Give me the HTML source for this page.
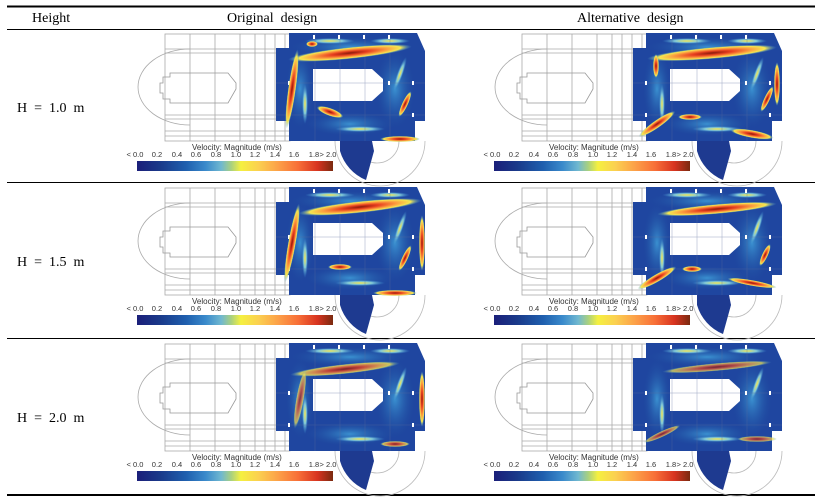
<!DOCTYPE html>
<html><head><meta charset="utf-8">
<style>
html,body{margin:0;padding:0;background:#fff;}
svg{display:block;}
.hd{font-family:"Liberation Serif",serif;font-size:14px;fill:#000;white-space:pre;}
.cb{font-family:"Liberation Sans",sans-serif;font-size:7.5px;fill:#333;text-anchor:middle;}
.cbt{font-family:"Liberation Sans",sans-serif;font-size:8px;fill:#333;}
</style></head><body>
<svg width="815" height="502" viewBox="0 0 815 502" xmlns="http://www.w3.org/2000/svg">
<defs>
<linearGradient id="cm" x1="0" x2="1" y1="0" y2="0">
<stop offset="0" stop-color="#1b1f7a"/><stop offset="0.12" stop-color="#1a3a8a"/>
<stop offset="0.25" stop-color="#1f5fae"/><stop offset="0.35" stop-color="#3a8acb"/>
<stop offset="0.43" stop-color="#70b8d0"/><stop offset="0.48" stop-color="#a8d080"/>
<stop offset="0.53" stop-color="#f5f040"/><stop offset="0.62" stop-color="#fbd050"/>
<stop offset="0.72" stop-color="#fca048"/><stop offset="0.82" stop-color="#f87038"/>
<stop offset="0.92" stop-color="#d83420"/><stop offset="1" stop-color="#7a2a10"/>
</linearGradient>
<radialGradient id="st" cx="0.5" cy="0.5" r="0.5">
<stop offset="0" stop-color="#8a1a0a"/><stop offset="0.3" stop-color="#e84020"/>
<stop offset="0.6" stop-color="#fca040"/><stop offset="0.82" stop-color="#f5e850"/>
<stop offset="1" stop-color="#4aa0d0" stop-opacity="0"/>
</radialGradient>
<radialGradient id="yl" cx="0.5" cy="0.5" r="0.5">
<stop offset="0" stop-color="#f8e850"/><stop offset="0.5" stop-color="#80c8d8"/>
<stop offset="1" stop-color="#3a8ad0" stop-opacity="0"/>
</radialGradient>
<radialGradient id="gl" cx="0.5" cy="0.5" r="0.5">
<stop offset="0" stop-color="#3a90d0"/><stop offset="1" stop-color="#1f4fa0" stop-opacity="0"/>
</radialGradient>
<g id="plan" fill="none" stroke="#aaa" stroke-width="0.8">
<path d="M190 20 A52 38 0 0 0 190 96"/>
<rect x="165" y="5" width="125" height="107"/>
<path d="M190 5V112M215 5V112M240 5V112M255 5V112M265 5V112M275 5V112M285 5V112"/>
<path d="M165 20H290M165 24H290M165 86H290M165 90H290M165 102H290M165 107H290"/>
<path d="M163 48H170V44H228L236 54V60L228 74H170V70H163V64H160V54H163Z" stroke="#999"/>
<path d="M355 112 A22 22 0 0 0 399 112" stroke="#bbb"/>
<path d="M335 112 A45 45 0 0 0 425 112" stroke="#bbb"/>
</g>
<g id="field">
<path d="M289 4H417L425 22V92H415V112H289V92H276V19H289Z" fill="#1f46a0"/>
<path d="M340 112H372L374 122L366 151A45 45 0 0 1 340 122Z" fill="#1e3a90"/>
<ellipse cx="300" cy="60" rx="14" ry="40" fill="url(#gl)"/>
<ellipse cx="395" cy="60" rx="20" ry="40" fill="url(#gl)"/>
<ellipse cx="350" cy="95" rx="45" ry="12" fill="url(#gl)"/>
<ellipse cx="350" cy="18" rx="60" ry="10" fill="url(#gl)"/>
<ellipse cx="330" cy="12" rx="25" ry="3" fill="url(#yl)"/>
<ellipse cx="390" cy="12" rx="20" ry="3" fill="url(#yl)"/>
<ellipse cx="305" cy="75" rx="3" ry="20" fill="url(#yl)"/>
<ellipse cx="400" cy="45" rx="3" ry="18" transform="rotate(20 400 45)" fill="url(#yl)"/>
<ellipse cx="360" cy="100" rx="25" ry="3" fill="url(#yl)"/>
<path d="M313 40H372L383 50V62L372 72H313Z" fill="#fff"/>
<g stroke="#5a6a9a" stroke-width="0.5" opacity="0.6">
<path d="M315 4V112M340 4V112M365 4V112M390 4V112M276 54H425M276 86H425"/>
</g>
<g fill="#fff"><rect x="313" y="6" width="2" height="4"/><rect x="338" y="6" width="2" height="4"/><rect x="363" y="6" width="2" height="4"/><rect x="388" y="6" width="2" height="4"/><rect x="288" y="52" width="2" height="4"/><rect x="388" y="52" width="2" height="4"/><rect x="412" y="52" width="2" height="4"/><rect x="288" y="84" width="2" height="4"/><rect x="412" y="84" width="2" height="4"/></g>
</g>
<g id="cbar">
<rect x="137" y="132" width="196" height="10" fill="url(#cm)"/>
</g>
<g id="tk">
<text class="cb" x="135" y="128">&lt; 0.0</text><text class="cb" x="157" y="128">0.2</text><text class="cb" x="177" y="128">0.4</text><text class="cb" x="196" y="128">0.6</text><text class="cb" x="216" y="128">0.8</text><text class="cb" x="236" y="128">1.0</text><text class="cb" x="255" y="128">1.2</text><text class="cb" x="275" y="128">1.4</text><text class="cb" x="294" y="128">1.6</text><text class="cb" x="314" y="128">1.8</text><text class="cb" x="328" y="128">&gt; 2.0</text>
<text class="cbt" x="235" y="121">Velocity: Magnitude (m/s)</text>
</g>
</defs>

<line x1="7" y1="6.5" x2="815" y2="6.5" stroke="#000" stroke-width="2"/>
<line x1="7" y1="29.5" x2="815" y2="29.5" stroke="#000" stroke-width="1"/>
<line x1="7" y1="182.5" x2="815" y2="182.5" stroke="#000" stroke-width="1"/>
<line x1="7" y1="338.5" x2="815" y2="338.5" stroke="#000" stroke-width="1"/>
<line x1="7" y1="495" x2="815" y2="495" stroke="#000" stroke-width="2"/>

<text class="hd" x="32" y="22">Height</text>
<text class="hd" x="227" y="22">Original  design</text>
<text class="hd" x="577" y="22">Alternative  design</text>
<text class="hd" x="17" y="112">H  =  1.0  m</text>
<text class="hd" x="17" y="266">H  =  1.5  m</text>
<text class="hd" x="17" y="422">H  =  2.0  m</text>

<g transform="translate(0,29)">
 <use href="#plan"/><use href="#field"/><use href="#cbar"/>
 <ellipse cx="350" cy="24" rx="62" ry="6" transform="rotate(-6 350 24)" fill="url(#st)"/>
 <ellipse cx="292" cy="60" rx="4" ry="40" transform="rotate(8 292 60)" fill="url(#st)"/>
 <ellipse cx="330" cy="83" rx="14" ry="4" transform="rotate(20 330 83)" fill="url(#st)"/>
 <ellipse cx="400" cy="110" rx="20" ry="3" fill="url(#st)"/>
 <ellipse cx="405" cy="75" rx="3" ry="14" transform="rotate(25 405 75)" fill="url(#st)"/>
 <ellipse cx="312" cy="15" rx="6" ry="3" fill="url(#st)"/>
</g>
<g transform="translate(357,29)">
 <use href="#plan"/><use href="#field"/><use href="#cbar"/>
 <ellipse cx="355" cy="24" rx="65" ry="6" transform="rotate(-5 355 24)" fill="url(#st)"/>
 <ellipse cx="299" cy="37" rx="3" ry="12" fill="url(#st)"/>
 <ellipse cx="300" cy="95" rx="22" ry="4" transform="rotate(-35 300 95)" fill="url(#st)"/>
 <ellipse cx="333" cy="88" rx="12" ry="3" fill="url(#st)"/>
 <ellipse cx="395" cy="105" rx="22" ry="4" transform="rotate(10 395 105)" fill="url(#st)"/>
 <ellipse cx="410" cy="70" rx="3" ry="14" transform="rotate(25 410 70)" fill="url(#st)"/>
 <ellipse cx="420" cy="55" rx="3" ry="22" fill="url(#st)"/>
</g>
<g transform="translate(0,183)">
 <use href="#plan"/><use href="#field"/><use href="#cbar"/>
 <ellipse cx="360" cy="24" rx="62" ry="6" transform="rotate(-6 360 24)" fill="url(#st)"/>
 <ellipse cx="292" cy="60" rx="4" ry="40" transform="rotate(10 292 60)" fill="url(#st)"/>
 <ellipse cx="340" cy="84" rx="12" ry="3" fill="url(#st)"/>
 <ellipse cx="395" cy="110" rx="22" ry="3" fill="url(#st)"/>
 <ellipse cx="405" cy="75" rx="3" ry="14" transform="rotate(25 405 75)" fill="url(#st)"/>
 <ellipse cx="422" cy="60" rx="3" ry="28" fill="url(#st)"/>
</g>
<g transform="translate(357,183)">
 <use href="#plan"/><use href="#field"/><use href="#cbar"/>
 <ellipse cx="360" cy="26" rx="60" ry="5" transform="rotate(-5 360 26)" fill="url(#st)"/>
 <ellipse cx="300" cy="95" rx="22" ry="4" transform="rotate(-30 300 95)" fill="url(#st)"/>
 <ellipse cx="335" cy="86" rx="10" ry="3" fill="url(#st)"/>
 <ellipse cx="395" cy="100" rx="25" ry="3" transform="rotate(10 395 100)" fill="url(#st)"/>
 <ellipse cx="408" cy="72" rx="3" ry="12" transform="rotate(25 408 72)" fill="url(#st)"/>
</g>
<g transform="translate(0,339)">
 <use href="#plan"/><use href="#field"/><use href="#cbar"/>
 <ellipse cx="345" cy="30" rx="55" ry="5" transform="rotate(-6 345 30)" fill="url(#st)" opacity="0.8"/>
 <ellipse cx="300" cy="60" rx="4" ry="30" transform="rotate(10 300 60)" fill="url(#st)" opacity="0.7"/>
 <ellipse cx="395" cy="105" rx="15" ry="3" fill="url(#st)" opacity="0.8"/>
 <ellipse cx="422" cy="60" rx="3" ry="28" fill="url(#st)"/>
</g>
<g transform="translate(357,339)">
 <use href="#plan"/><use href="#field"/><use href="#cbar"/>
 <ellipse cx="360" cy="28" rx="55" ry="4" transform="rotate(-5 360 28)" fill="url(#st)" opacity="0.7"/>
 <ellipse cx="305" cy="95" rx="20" ry="3" transform="rotate(-25 305 95)" fill="url(#st)" opacity="0.7"/>
 <ellipse cx="400" cy="100" rx="20" ry="3" fill="url(#st)" opacity="0.7"/>
</g>

<g transform="translate(0,29)"><text class="cbt" x="192" y="121">Velocity: Magnitude (m/s)</text><text class="cb" x="135" y="128">&lt; 0.0</text><text class="cb" x="157" y="128">0.2</text><text class="cb" x="177" y="128">0.4</text><text class="cb" x="196" y="128">0.6</text><text class="cb" x="216" y="128">0.8</text><text class="cb" x="236" y="128">1.0</text><text class="cb" x="255" y="128">1.2</text><text class="cb" x="275" y="128">1.4</text><text class="cb" x="294" y="128">1.6</text><text class="cb" x="314" y="128">1.8</text><text class="cb" x="328" y="128">&gt; 2.0</text></g>
<g transform="translate(0,183)"><text class="cbt" x="192" y="121">Velocity: Magnitude (m/s)</text><text class="cb" x="135" y="128">&lt; 0.0</text><text class="cb" x="157" y="128">0.2</text><text class="cb" x="177" y="128">0.4</text><text class="cb" x="196" y="128">0.6</text><text class="cb" x="216" y="128">0.8</text><text class="cb" x="236" y="128">1.0</text><text class="cb" x="255" y="128">1.2</text><text class="cb" x="275" y="128">1.4</text><text class="cb" x="294" y="128">1.6</text><text class="cb" x="314" y="128">1.8</text><text class="cb" x="328" y="128">&gt; 2.0</text></g>
<g transform="translate(0,339)"><text class="cbt" x="192" y="121">Velocity: Magnitude (m/s)</text><text class="cb" x="135" y="128">&lt; 0.0</text><text class="cb" x="157" y="128">0.2</text><text class="cb" x="177" y="128">0.4</text><text class="cb" x="196" y="128">0.6</text><text class="cb" x="216" y="128">0.8</text><text class="cb" x="236" y="128">1.0</text><text class="cb" x="255" y="128">1.2</text><text class="cb" x="275" y="128">1.4</text><text class="cb" x="294" y="128">1.6</text><text class="cb" x="314" y="128">1.8</text><text class="cb" x="328" y="128">&gt; 2.0</text></g>
<g transform="translate(357,29)"><text class="cbt" x="192" y="121">Velocity: Magnitude (m/s)</text><text class="cb" x="135" y="128">&lt; 0.0</text><text class="cb" x="157" y="128">0.2</text><text class="cb" x="177" y="128">0.4</text><text class="cb" x="196" y="128">0.6</text><text class="cb" x="216" y="128">0.8</text><text class="cb" x="236" y="128">1.0</text><text class="cb" x="255" y="128">1.2</text><text class="cb" x="275" y="128">1.4</text><text class="cb" x="294" y="128">1.6</text><text class="cb" x="314" y="128">1.8</text><text class="cb" x="328" y="128">&gt; 2.0</text></g>
<g transform="translate(357,183)"><text class="cbt" x="192" y="121">Velocity: Magnitude (m/s)</text><text class="cb" x="135" y="128">&lt; 0.0</text><text class="cb" x="157" y="128">0.2</text><text class="cb" x="177" y="128">0.4</text><text class="cb" x="196" y="128">0.6</text><text class="cb" x="216" y="128">0.8</text><text class="cb" x="236" y="128">1.0</text><text class="cb" x="255" y="128">1.2</text><text class="cb" x="275" y="128">1.4</text><text class="cb" x="294" y="128">1.6</text><text class="cb" x="314" y="128">1.8</text><text class="cb" x="328" y="128">&gt; 2.0</text></g>
<g transform="translate(357,339)"><text class="cbt" x="192" y="121">Velocity: Magnitude (m/s)</text><text class="cb" x="135" y="128">&lt; 0.0</text><text class="cb" x="157" y="128">0.2</text><text class="cb" x="177" y="128">0.4</text><text class="cb" x="196" y="128">0.6</text><text class="cb" x="216" y="128">0.8</text><text class="cb" x="236" y="128">1.0</text><text class="cb" x="255" y="128">1.2</text><text class="cb" x="275" y="128">1.4</text><text class="cb" x="294" y="128">1.6</text><text class="cb" x="314" y="128">1.8</text><text class="cb" x="328" y="128">&gt; 2.0</text></g>
</svg>
</body></html>
